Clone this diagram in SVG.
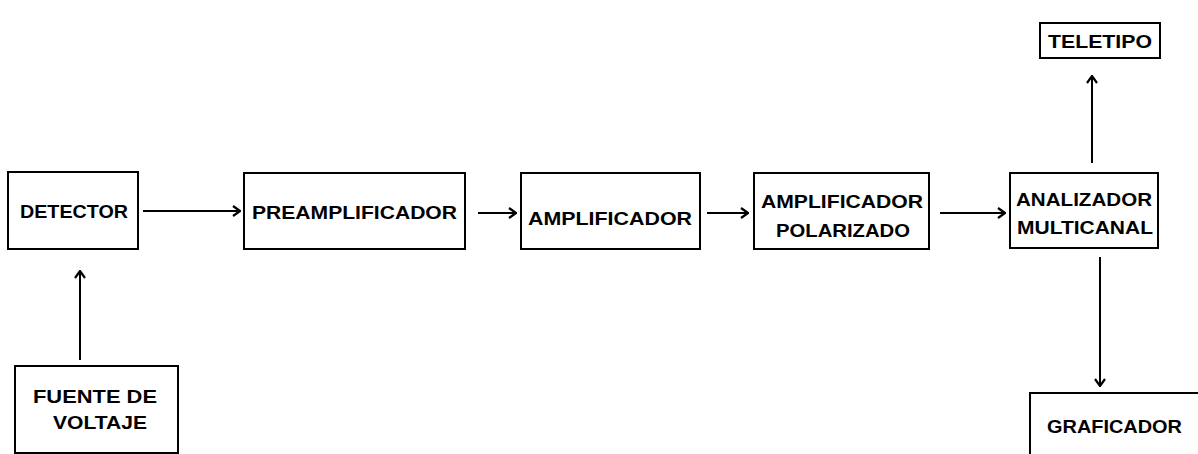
<svg xmlns="http://www.w3.org/2000/svg" width="1198" height="454" viewBox="0 0 1198 454">
<defs>
<style>
.box{fill:#fff;stroke:#000;stroke-width:2}
.t{font-family:"Liberation Sans",Arial,sans-serif;font-weight:bold;font-size:18px;fill:#000;text-anchor:start;dominant-baseline:central}
.c{fill:none;stroke:#000;stroke-width:2}
</style>
<marker id="ah" viewBox="0 0 12 12" refX="11" refY="6" markerWidth="12" markerHeight="12" markerUnits="userSpaceOnUse" orient="auto">
<path d="M4,1 L11,6 L4,11" fill="none" stroke="#000" stroke-width="2.2"/>
</marker>
</defs>
<rect width="1198" height="454" fill="#fff"/>
<g id="connectors">
<line class="c" x1="143" y1="211" x2="240" y2="211" marker-end="url(#ah)"/>
<line class="c" x1="478" y1="213" x2="516" y2="213" marker-end="url(#ah)"/>
<line class="c" x1="707" y1="213" x2="748" y2="213" marker-end="url(#ah)"/>
<line class="c" x1="940" y1="213" x2="1005" y2="213" marker-end="url(#ah)"/>
<line class="c" x1="1092" y1="163" x2="1092" y2="76" marker-end="url(#ah)"/>
<line class="c" x1="1100" y1="257" x2="1100" y2="386" marker-end="url(#ah)"/>
<line class="c" x1="80" y1="360" x2="80" y2="271" marker-end="url(#ah)"/>
</g>
<g id="detector">
<rect class="box" x="8" y="172" width="130" height="77"/>
<text class="t" x="20" y="212" textLength="108" lengthAdjust="spacingAndGlyphs">DETECTOR</text>
</g>
<g id="preamplificador">
<rect class="box" x="244" y="173" width="221" height="76"/>
<text class="t" x="252" y="213" textLength="205" lengthAdjust="spacingAndGlyphs">PREAMPLIFICADOR</text>
</g>
<g id="amplificador">
<rect class="box" x="521" y="173" width="179" height="76"/>
<text class="t" x="528" y="219" textLength="164" lengthAdjust="spacingAndGlyphs">AMPLIFICADOR</text>
</g>
<g id="amplificador-polarizado">
<rect class="box" x="754" y="173" width="175" height="76"/>
<text class="t" x="761" y="202" textLength="162" lengthAdjust="spacingAndGlyphs">AMPLIFICADOR</text>
<text class="t" x="776" y="231" textLength="134" lengthAdjust="spacingAndGlyphs">POLARIZADO</text>
</g>
<g id="analizador">
<rect class="box" x="1010" y="173" width="148" height="75"/>
<text class="t" x="1016" y="200" textLength="136" lengthAdjust="spacingAndGlyphs">ANALIZADOR</text>
<text class="t" x="1017" y="228" textLength="136" lengthAdjust="spacingAndGlyphs">MULTICANAL</text>
</g>
<g id="teletipo">
<rect class="box" x="1040" y="23" width="120" height="35"/>
<text class="t" x="1048" y="42" textLength="104" lengthAdjust="spacingAndGlyphs">TELETIPO</text>
</g>
<g id="graficador">
<rect class="box" x="1030" y="393" width="180" height="80"/>
<text class="t" x="1047" y="427" textLength="135" lengthAdjust="spacingAndGlyphs">GRAFICADOR</text>
</g>
<g id="fuente">
<rect class="box" x="15" y="366" width="163" height="87"/>
<text class="t" x="33" y="397" textLength="124" lengthAdjust="spacingAndGlyphs">FUENTE DE</text>
<text class="t" x="53" y="423" textLength="94" lengthAdjust="spacingAndGlyphs">VOLTAJE</text>
</g>
</svg>
